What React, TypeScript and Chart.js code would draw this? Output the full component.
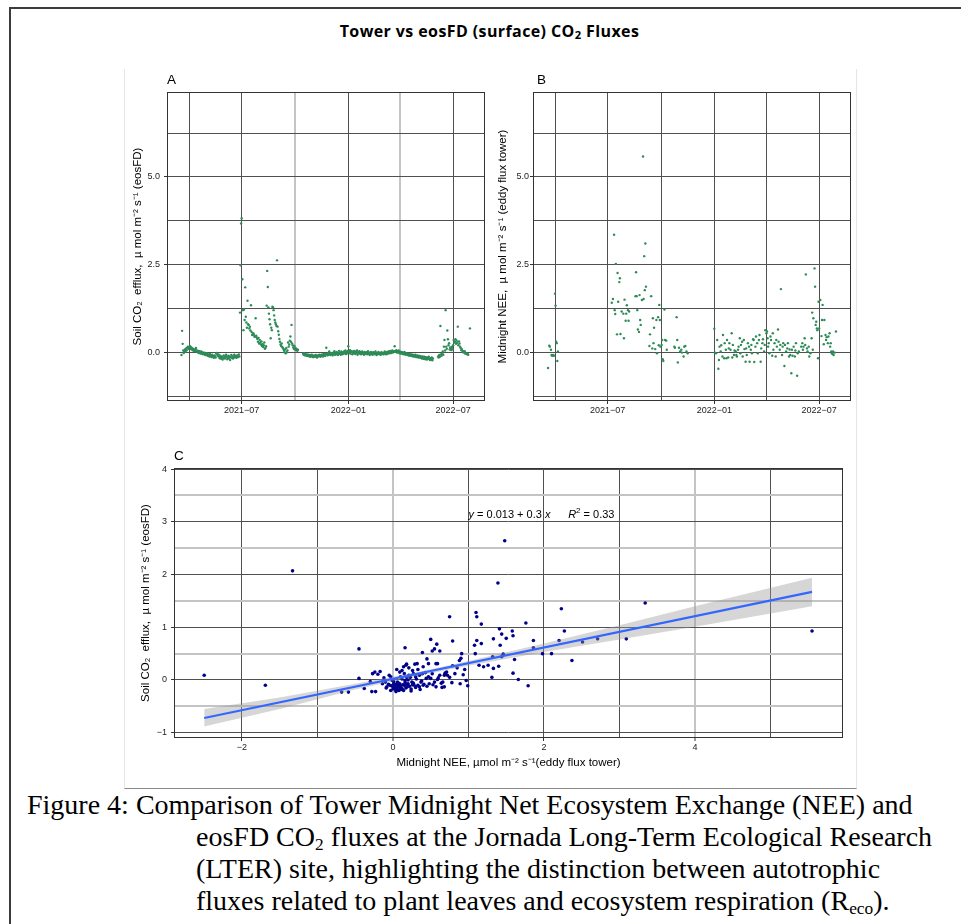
import React, { useEffect, useRef } from "react";
import { Chart, registerables } from "chart.js";

Chart.register(...registerables);

const SANS = '"Liberation Sans", Arial, Helvetica, sans-serif';
const SERIF = '"Liberation Serif", "Times New Roman", Times, serif';

// ---------------- text ----------------
const FIG_TITLE_PRE = "Tower vs eosFD (surface) CO";
const FIG_TITLE_POST = " Fluxes";
const Y_TITLE_SOIL = "Soil CO\u2082  efflux,  \u00B5 mol m\u207B\u00B2 s\u207B\u00B9 (eosFD)";
const Y_TITLE_NEE = "Midnight NEE,  \u00B5 mol m\u207B\u00B2 s\u207B\u00B9 (eddy flux tower)";
const X_TITLE_C = "Midnight NEE, \u00B5mol m\u207B\u00B2 s\u207B\u00B9(eddy flux tower)";

// ---------------- time axis (panels A, B) ----------------
const DATE_MIN = "2021-02-22";
const DATE_MAX = "2022-08-25";
const DATE_GRID = ["2021-04-01", "2021-07-01", "2021-10-01", "2022-01-01", "2022-04-01", "2022-07-01"];
const DATE_LABEL_AT = ["2021-07-01", "2022-01-01", "2022-07-01"];
const DATE_LABELS = ["2021\u221207", "2022\u221201", "2022\u221207"];
const TS_Y_MIN = -1.39;
const TS_Y_MAX = 7.42;
const TS_Y_GRID = [-1.25, 0, 1.25, 2.5, 3.75, 5, 6.25];
const TS_Y_LABELS = [0, 2.5, 5];

// ---------------- panel A: eosFD soil CO2 efflux (daily) ----------------
const A1_START = "2021-03-19";
const A1 = [
  -0.08, 0.61, 0.24, 0.05, -0.02, 0.03, 0.08, 0.02, 0.11, 0.06,
  0.13, 0.16, 0.10, 0.15, 0.12, 0.17, 0.09, 0.14, 0.11, 0.06,
  0.10, 0.04, 0.08, 0.03, 0.07, 0.12, 0.02, 0.05, 0.00, 0.04,
  -0.02, 0.03, 0.01, -0.04, 0.02, -0.03, 0.00, -0.06, -0.02, -0.05,
  -0.01, -0.08, -0.04, -0.07, -0.03, -0.10, -0.06, -0.09, -0.12, -0.05,
  -0.08, -0.11, -0.14, -0.07, -0.10, -0.13, -0.16, -0.09, -0.12, -0.15,
  -0.04, -0.02, -0.08, -0.11, -0.06, -0.13, -0.17, -0.10, -0.15, -0.19,
  -0.12, -0.21, -0.16, -0.09, -0.14, -0.18, -0.11, -0.07, -0.13, -0.20,
  -0.15, -0.10, -0.17, -0.12, -0.22, -0.14, -0.08, -0.16, -0.11, -0.18,
  -0.13, -0.07, -0.15, -0.10, -0.12, -0.16, -0.09, -0.14, -0.11, -0.06,
  -0.12,
];
const A2_START = "2021-06-28";
const A2 = [
  1.13, 2.48, 3.67, 3.82, 2.08, 1.20, 0.63, 1.22, 0.92, 1.85,
  1.01, 0.85, 0.70, 1.47, 0.80, 0.78, 0.68, 0.73, 0.62, 1.34,
  0.58, 0.49, 0.52, 0.54, 0.50, 0.44, 0.45, 0.97, 0.47, 0.42,
  0.38, 0.30, 0.41, 0.25, 0.35, 0.28, 0.22, 0.31, 0.18, 0.24,
  0.15, 0.20, 0.28, 0.10, 0.12, 0.17, 1.33, 2.32, 1.86, 1.28,
  1.10, 0.94, 0.80, 0.40, 0.70, 0.63, 1.30, 1.28, 1.20, 1.05,
  0.92, 0.85, 0.80, 0.75, 2.62, 0.73, 0.60, 0.50, 0.38, 0.30,
  0.22, 0.18, 0.25, 0.15, 0.12, 0.10, 0.05, 0.00, 0.08, -0.03,
  0.12, 0.00, 0.05, 0.28, 0.16, 0.22, 0.33, 0.45, 0.30, 0.78,
  0.25, 0.20, 0.14, 0.10, 0.18, 0.08, 0.12, 0.06, 0.09, 0.04,
  0.07,
];
const A3_START = "2021-10-15";
const A3 = [
  -0.04, -0.07, -0.03, -0.09, -0.05, -0.08, -0.10, -0.06, -0.11, -0.07,
  -0.09, -0.12, -0.08, -0.13, -0.10, -0.07, -0.11, -0.14, -0.09, -0.12,
  -0.10, -0.13, -0.08, -0.11, -0.15, -0.09, -0.12, -0.10, -0.07, -0.11,
  -0.13, -0.08, -0.10, -0.06, -0.12, -0.09, -0.05, -0.08, -0.11, -0.04,
  0.13, -0.06, -0.09, -0.03, -0.07, 0.02, -0.05, -0.08, -0.02, -0.06,
  -0.04, -0.09, -0.01, -0.05, 0.03, -0.07, -0.03, -0.06, 0.01, -0.04,
  -0.08, -0.02, 0.04, -0.05, -0.01, -0.07, 0.02, -0.03, -0.06, 0.00,
  -0.04, 0.03, -0.02, 0.05, -0.05, 0.01, -0.03, 0.04, 0.17, 0.02,
  -0.02, 0.06, -0.04, 0.01, 0.03, -0.06, 0.00, -0.03, 0.04, -0.01,
  -0.05, 0.02, -0.02, 0.05, -0.07, 0.00, -0.03, 0.03, -0.04, 0.01,
  -0.06, -0.02, 0.02, -0.04, -0.01, -0.07, 0.01, -0.03, -0.05, 0.00,
  -0.02, -0.06, 0.03, -0.04, -0.01, -0.08, -0.03, 0.01, -0.05, -0.02,
  -0.07, 0.00, -0.04, -0.01, -0.06, 0.02, -0.03, -0.08, -0.02, -0.05,
  0.01, -0.04, -0.06, -0.02, -0.07, 0.00, -0.03, -0.05, -0.01, -0.06,
  -0.03, 0.02, -0.05, -0.02, -0.06, 0.01, -0.04, -0.01, 0.03, -0.03,
  0.00, 0.04, -0.02, 0.02, 0.05, -0.01, 0.03, 0.01, 0.17, 0.04,
  0.02, 0.06, -0.01, 0.03, 0.00, 0.05, -0.02, 0.02, -0.04, 0.01,
  -0.03, 0.00, -0.05, -0.02, -0.06, 0.01, -0.04, -0.07, -0.03, -0.05,
  -0.08, -0.04, -0.06, -0.10, -0.05, -0.09, -0.07, -0.11, -0.06, -0.09,
  -0.12, -0.08, -0.10, -0.13, -0.07, -0.11, -0.14, -0.09, -0.12, -0.15,
  -0.10, -0.13, -0.16, -0.11, -0.14, -0.18, -0.12, -0.15, -0.19, -0.13,
  -0.16, -0.20, -0.14, -0.17, -0.21, -0.15, -0.18, -0.13, -0.19, -0.22,
  -0.17, -0.20, -0.15, -0.23, -0.18,
];
const A4_START = "2022-06-05";
const A4 = [
  -0.12, -0.15, -0.08, -0.13, 0.75, -0.06, -0.10, -0.04, 0.02, -0.07,
  0.16, 0.35, 0.05, 1.20, 0.16, 0.10, 0.62, 0.37, 0.20, 0.26,
  0.08, 0.14, 0.11, 0.06, 0.15, 0.09, 0.20, 0.35, 0.28, 0.30,
  0.37, 0.24, 0.33, 0.27, 0.73, 0.20, 0.31, 0.25, 0.16, 0.12,
  0.06, 0.09, 0.04, 0.01, -0.01, 0.03, 0.02, -0.04, -0.02, -0.03,
  -0.06, -0.05, -0.07, null, null, 0.68,
];

// ---------------- panel B: tower midnight NEE (daily, null = missing) ----------------
const B1_START = "2021-03-20";
const B1 = [-0.45, null, 0.19, 0.16, null, 0.07, -0.08, -0.10, null, -0.08, -0.10, null, 1.67, 1.33, 0.30, 0.26, -0.25, 0.02];
const B2_START = "2021-07-08";
const B2 = [
  1.41, null, 1.52, null, 3.35, 1.20, 1.09, 2.52, null, 0.51,
  2.26, 1.44, null, 2.00, 2.11, 0.52, null, 1.16, null, null,
  1.10, 0.40, 1.50, null, 0.90, 1.10, 1.34, null, 1.20, 0.90,
  1.16, null, null, null, null, null, null, null, null, null,
  null, 1.60, 2.28, 1.60, 1.20, 0.65, null, 0.58, 1.63, 0.92,
  0.78, null, 1.49, null, 5.58, 1.52, 2.74, 1.77, 3.10, 1.87,
  null, null, null, null, null, 0.18, 0.51, null, 1.60, null,
  0.11, 0.97, 0.26, 0.70, null, 0.09, null, 0.92, -0.03, null,
  1.00, 0.20, 1.35, 0.92, 0.16, null, 0.21, 0.35, -0.20, -0.25,
  null, 1.22, 0.35, null, 0.33, 0.07,
];
const B3_START = "2021-10-24";
const B3 = [0.16, 0.13, null, null, 1.00, 0.35, -0.29, null, 0.13, null, 0.02, null, 0.07, -0.01, null, null, -0.12, 0.16, null, 0.18, null, 0.02, null, -0.03];
const B4_START = "2022-01-01";
const B4 = [
  0.67, -0.01, null, -0.03, null, 0.35, null, -0.47, -0.22, 0.16,
  null, 0.02, 0.20, null, -0.12, 0.49, null, -0.17, 0.26, null,
  0.07, -0.17, 0.35, null, -0.15, 0.11, 0.26, null, 0.07, null,
  0.54, -0.15, 0.21, null, -0.08, 0.05, null, 0.02, -0.08, -0.12,
  null, 0.07, 0.16, null, 0.40, -0.03, 0.21, null, 0.30, -0.12,
  null, 0.35, 0.09, null, -0.27, 0.11, -0.08, null, 0.26, null,
  0.16, -0.27, null, 0.07, 0.21, -0.03, null, 0.37, 0.35, -0.28,
  null, 0.16, 0.45, null, 0.26, -0.03, null, 0.35, 0.49, null,
  -0.27, 0.11, null, 0.26, 0.37, null, 0.02, 0.21, 0.63, null,
  0.54, 0.59, 0.40, 0.16, 0.26, -0.03, null, 0.45, 0.35, null,
  -0.10, 0.54, 0.07, null, 0.26, null, -0.12, 0.35, 0.16, null,
  0.65, 0.30, null, 0.07, 0.21, 1.80, null, -0.08, 0.16, 0.26,
  null, -0.39, 0.21, null, 0.02, null, 0.11, 0.26, null, -0.12,
  0.08, -0.08, null, -0.60, 0.07, -0.10, null, 0.16, null, -0.12,
  0.05, 0.26, null, -0.67, -0.03, null, 0.02, null, null, null,
  0.16, null, 0.26, 0.07, 0.16, null, 0.40, 0.21, 2.22, null,
  0.11, 0.02, null, 0.16, -0.12, null, -0.03, null, 0.40, 1.13,
  0.07, 0.97, null, 2.39, 1.87, 0.78, 0.87, 0.68, 0.63, -0.17,
  1.44, 0.68, null, 1.49, null, 0.46, 0.92, 1.35, null, 0.23,
  0.92, null, 0.49, 0.35, 0.43, null, 0.26, 0.45, null, 0.54,
  0.16, 0.26, 0.02, -0.03, -0.05, 0.02, -0.08, null, -0.01, null,
  0.59,
];

// ---------------- panel C: scatter + linear fit ----------------
const C_NEE = [
  -2.50, -1.69, -1.33, -0.45, -0.45, -0.68, -0.59, -0.38, -0.30, -0.27,
  -0.24, -0.20, -0.17, -0.28, -0.23, -0.14, -0.12, -0.10, -0.08, -0.05,
  -0.04, -0.03, -0.01, 0.00, 0.01, 0.03, 0.04, 0.05, 0.06, 0.07,
  0.08, 0.09, 0.10, 0.12, 0.12, 0.14, 0.15, 0.16, 0.17, 0.18,
  0.19, 0.20, 0.21, 0.24, 0.25, 0.26, 0.28, 0.30, 0.32, 0.35,
  0.37, 0.39, 0.40, 0.44, 0.48, 0.50, 0.52, 0.55, 0.57, 0.59,
  0.62, 0.66, 0.68, 0.69, 0.72, 0.57, 0.45, 0.02, 0.05, 0.08,
  0.11, 0.03, 0.06, 0.09, 0.13, 0.00, -0.02, 0.04, 0.07, 0.10,
  0.14, 0.17, 0.19, 0.22, 0.24, 0.27, 0.30, 0.33, 0.36, 0.41,
  0.45, 0.01, -0.06, -0.09, 0.12, 0.16, 0.20, 0.23, 0.26, 0.31,
  0.35, 0.38, 0.43, 0.47, 0.53, 0.60, 0.64, 0.15, 0.05, -0.03,
  0.09, 0.21, 0.27, 0.18, 0.33, 0.40, 0.75, 0.82, 0.95, 0.78,
  1.48, 1.39, 0.75, 1.10, 1.11, 1.17, 1.76, 1.41, 1.44, 1.58,
  1.59, 1.50, 1.33, 1.11, 1.17, 1.08, 1.42, 0.79, 0.50, 0.58,
  0.55, 0.62, 0.52, 0.39, 0.16, 0.91, 0.90, 0.88, 1.09, 1.46,
  1.61, 1.86, 1.86, 1.98, 2.10, 2.20, 2.23, 2.27, 2.37, 2.51,
  2.71, 3.09, 3.34, 5.55, 1.59, 1.66, 1.79, 1.31, 1.14, 1.20,
  1.26, 1.33, 1.40, 1.44, 1.32, 0.89, 0.97, 0.99, 0.93, 0.85,
  0.79, 0.65, 0.68, 0.71, 0.59, 0.47, 0.29,
];
const C_SOIL = [
  0.09, -0.10, 2.07, 0.59, 0.03, -0.23, -0.23, -0.16, -0.03, 0.12,
  0.15, 0.11, 0.16, -0.22, -0.22, -0.07, 0.04, -0.04, -0.13, 0.09,
  -0.10, -0.20, -0.01, -0.13, -0.07, -0.16, -0.20, -0.10, -0.04, -0.13,
  -0.20, -0.07, 0.06, -0.16, 0.18, 0.25, -0.10, -0.01, 0.28, 0.30,
  -0.13, -0.07, 0.09, -0.21, -0.04, 0.18, -0.10, 0.06, 0.31, -0.13,
  -0.04, 0.12, -0.10, 0.03, -0.07, 0.03, 0.12, -0.04, -0.13, 0.01,
  0.09, -0.04, -0.13, 0.13, 0.09, 0.31, 0.40, -0.12, -0.15, -0.10,
  -0.18, -0.08, -0.19, -0.14, -0.09, -0.17, -0.11, -0.22, -0.06, -0.12,
  -0.20, -0.15, -0.08, -0.12, -0.17, -0.06, -0.14, -0.10, -0.18, -0.08,
  -0.12, -0.03, -0.08, -0.15, 0.02, -0.05, 0.00, 0.05, -0.09, 0.02,
  0.09, -0.02, 0.14, 0.06, -0.09, 0.04, -0.06, 0.12, 0.20, 0.06,
  0.15, 0.23, 0.12, 0.05, 0.20, 0.25, 0.05, 0.12, 0.20, -0.05,
  2.64, 1.84, 1.20, 1.28, 1.20, 1.06, 1.08, 0.97, 0.87, 0.93,
  0.84, 0.79, 0.78, 0.75, 0.69, 0.66, 0.66, 0.74, 0.77, 0.68,
  0.59, 0.55, 0.55, 0.52, 0.61, 0.50, 0.41, 0.37, 0.50, 0.49,
  0.39, 0.75, 0.61, 0.50, 0.50, 0.75, 1.35, 0.93, 0.37, 0.72,
  0.78, 0.78, 1.46, 0.93, 0.13, 0.01, -0.11, 0.05, 0.28, 0.25,
  0.28, 0.22, 0.26, 0.44, 0.44, -0.07, -0.01, -0.11, 0.10, 0.23,
  0.27, -0.14, 0.09, 0.15, 0.31, 0.31, 0.30,
];
const FIT_X = [-2.5, 5.55];
const FIT_Y = [-0.72, 1.67];
const BAND_X = [-2.5, -1.5, -0.5, 0.3, 1, 2, 3, 4, 5.55];
const BAND_LO = [-0.88, -0.55, -0.18, 0.07, 0.27, 0.53, 0.77, 1.01, 1.40];
const BAND_HI = [-0.55, -0.33, -0.07, 0.14, 0.36, 0.69, 1.04, 1.40, 1.94];
const EQ_INTERCEPT = "0.013";
const EQ_SLOPE = "0.3";
const EQ_R2 = "0.33";
const EQ_X1 = 1.0;
const EQ_X2 = 2.32;
const EQ_Y = 3.07;
const C_X_MIN = -2.9;
const C_X_MAX = 5.96;
const C_Y_MIN = -1.1;
const C_Y_MAX = 4.02;
const C_X_GRID = [-2, -1, 0, 1, 2, 3, 4, 5];
const C_X_LABELS = [-2, 0, 2, 4];
const C_Y_GRID = [-1, -0.5, 0, 0.5, 1, 1.5, 2, 2.5, 3, 3.5, 4];
const C_Y_LABELS = [-1, 0, 1, 2, 3, 4];

const CAPTION_1 = "Figure 4: Comparison of Tower Midnight Net Ecosystem Exchange (NEE) and";
const CAPTION_2A = "eosFD CO";
const CAPTION_2B = " fluxes at the Jornada Long-Term Ecological Research";
const CAPTION_3 = "(LTER) site, highlighting the distinction between autotrophic";
const CAPTION_4A = "fluxes related to plant leaves and ecosystem respiration (R";
const CAPTION_4B = ").";

// ---------------- helpers ----------------
function dayNum(s: string): number {
  const [y, m, d] = s.split("-").map(Number);
  return Date.UTC(y, m - 1, d) / 86400000;
}
function daily(start: string, vals: (number | null)[]) {
  const d0 = dayNum(start);
  const out: { x: number; y: number }[] = [];
  vals.forEach((v, i) => {
    if (v !== null && v !== undefined) out.push({ x: d0 + i, y: v });
  });
  return out;
}
const minusFmt = (v: number) => (v < 0 ? "\u2212" + Math.abs(v) : String(v));

const DARK_GRID = "#505050";
const LIGHT_GRID = "#c4c4c4";
const NONE = "rgba(0,0,0,0)";
const AXIS_TITLE_SIZE = 11.5;

const framePlugin = {
  id: "panelFrame",
  afterDraw(chart: any, _args: any, opts: any) {
    const { ctx, chartArea: a } = chart;
    ctx.save();
    ctx.strokeStyle = "#333";
    ctx.lineWidth = 1;
    const l = Math.round(a.left) + 0.5;
    const t = Math.round(a.top) + 0.5;
    const r = Math.round(a.right) - 0.5;
    const b = Math.round(a.bottom) - 0.5;
    ctx.strokeRect(l, t, r - l, b - t);
    ctx.fillStyle = "#000";
    ctx.font = `13.5px ${SANS}`;
    ctx.textAlign = "left";
    ctx.textBaseline = "alphabetic";
    ctx.fillText(opts.tag, a.left + (opts.tagDx || 0), a.top - 8.5);
    ctx.restore();
  },
};

const equationPlugin = {
  id: "fitEquation",
  afterDatasetsDraw(chart: any) {
    const { ctx, scales } = chart;
    const y = scales.y.getPixelForValue(EQ_Y);
    ctx.save();
    ctx.fillStyle = "#000";
    ctx.textAlign = "left";
    ctx.textBaseline = "alphabetic";
    const draw = (parts: any[], startX: number) => {
      let x = startX;
      for (const p of parts) {
        ctx.font = `${p.italic ? "italic " : ""}${p.size}px ${SANS}`;
        ctx.fillText(p.text, x, y - (p.raise || 0));
        x += ctx.measureText(p.text).width;
      }
    };
    draw(
      [
        { text: "y", italic: true, size: 11 },
        { text: ` = ${EQ_INTERCEPT} + ${EQ_SLOPE} `, size: 11 },
        { text: "x", italic: true, size: 11 },
      ],
      scales.x.getPixelForValue(EQ_X1)
    );
    draw(
      [
        { text: "R", italic: true, size: 11 },
        { text: "2", size: 8, raise: 5 },
        { text: ` = ${EQ_R2}`, size: 11 },
      ],
      scales.x.getPixelForValue(EQ_X2)
    );
    ctx.restore();
  },
};

function tsConfig(points: any[], o: any): any {
  const gridX = DATE_GRID.map(dayNum);
  const labelX = DATE_LABEL_AT.map(dayNum);
  const lightX = (o.lightDates as string[]).map(dayNum);
  return {
    type: "scatter",
    data: {
      datasets: [
        {
          data: points,
          backgroundColor: "#2E8B57",
          borderWidth: 0,
          pointRadius: 1.2,
          pointHoverRadius: 1.2,
        },
      ],
    },
    options: {
      animation: false,
      responsive: false,
      events: [],
      layout: { padding: { left: 0, right: o.padRight, top: 32, bottom: 0 } },
      plugins: {
        legend: { display: false },
        tooltip: { enabled: false },
        panelFrame: { tag: o.tag, tagDx: o.tagDx },
      },
      scales: {
        x: {
          type: "linear",
          bounds: "data",
          min: dayNum(DATE_MIN),
          max: dayNum(DATE_MAX),
          afterBuildTicks: (s: any) => {
            s.ticks = gridX.map((v) => ({ value: v }));
          },
          afterFit: (s: any) => {
            s.height = 21;
          },
          ticks: {
            autoSkip: false,
            maxRotation: 0,
            minRotation: 0,
            padding: 1,
            color: "#222",
            font: { family: SANS, size: 9 },
            callback: (v: number) => {
              const i = labelX.indexOf(v);
              return i >= 0 ? DATE_LABELS[i] : "";
            },
          },
          grid: {
            color: (c: any) => (c.tick && lightX.includes(c.tick.value) ? LIGHT_GRID : DARK_GRID),
            lineWidth: (c: any) => (c.tick && lightX.includes(c.tick.value) ? 2 : 1),
            tickColor: (c: any) => (c.tick && labelX.includes(c.tick.value) ? "#333" : NONE),
            tickLength: 3,
            tickWidth: 1,
          },
          border: { display: false },
        },
        y: {
          type: "linear",
          bounds: "data",
          min: TS_Y_MIN,
          max: TS_Y_MAX,
          afterBuildTicks: (s: any) => {
            s.ticks = TS_Y_GRID.map((v) => ({ value: v }));
          },
          afterFit: (s: any) => {
            s.width = o.yWidth;
          },
          ticks: {
            autoSkip: false,
            padding: o.yTickPad,
            color: "#222",
            font: { family: SANS, size: 9 },
            callback: (v: number) => (TS_Y_LABELS.includes(v) ? v.toFixed(1) : ""),
          },
          grid: {
            color: DARK_GRID,
            lineWidth: 1,
            tickColor: (c: any) => (c.tick && TS_Y_LABELS.includes(c.tick.value) ? "#333" : NONE),
            tickLength: 3,
            tickWidth: 1,
          },
          border: { display: false },
          title: {
            display: true,
            text: o.yTitle,
            color: "#000",
            font: { family: SANS, size: AXIS_TITLE_SIZE },
            padding: { top: o.yTitlePad, bottom: 0 },
          },
        },
      },
    },
    plugins: [framePlugin],
  };
}

function scatterConfig(): any {
  const pts = C_NEE.map((x, i) => ({ x, y: C_SOIL[i] }));
  const fit = FIT_X.map((x, i) => ({ x, y: FIT_Y[i] }));
  const lo = BAND_X.map((x, i) => ({ x, y: BAND_LO[i] }));
  const hi = BAND_X.map((x, i) => ({ x, y: BAND_HI[i] }));
  return {
    type: "scatter",
    data: {
      datasets: [
        {
          type: "line",
          data: fit,
          borderColor: "#3366FF",
          borderWidth: 2.2,
          pointRadius: 0,
          fill: false,
          order: 0,
        },
        {
          type: "line",
          data: lo,
          borderColor: NONE,
          borderWidth: 0,
          pointRadius: 0,
          fill: false,
          order: 2,
        },
        {
          type: "line",
          data: hi,
          borderColor: NONE,
          borderWidth: 0,
          pointRadius: 0,
          fill: "-1",
          backgroundColor: "rgba(153,153,153,0.4)",
          order: 1,
        },
        {
          data: pts,
          backgroundColor: "#00008B",
          borderWidth: 0,
          pointRadius: 1.8,
          pointHoverRadius: 1.8,
          order: 3,
        },
      ],
    },
    options: {
      animation: false,
      responsive: false,
      events: [],
      layout: { padding: { left: 0, right: 17, top: 28, bottom: 0 } },
      plugins: {
        legend: { display: false },
        tooltip: { enabled: false },
        panelFrame: { tag: "C", tagDx: 0 },
      },
      scales: {
        x: {
          type: "linear",
          bounds: "data",
          min: C_X_MIN,
          max: C_X_MAX,
          afterBuildTicks: (s: any) => {
            s.ticks = C_X_GRID.map((v) => ({ value: v }));
          },
          afterFit: (s: any) => {
            s.height = 47;
          },
          ticks: {
            autoSkip: false,
            maxRotation: 0,
            minRotation: 0,
            padding: 1,
            color: "#222",
            font: { family: SANS, size: 9 },
            callback: (v: number) => (C_X_LABELS.includes(v) ? minusFmt(v) : ""),
          },
          grid: {
            color: (c: any) => (c.tick && (c.tick.value === 0 || c.tick.value === 4) ? LIGHT_GRID : DARK_GRID),
            lineWidth: (c: any) => (c.tick && (c.tick.value === 0 || c.tick.value === 4) ? 2 : 1),
            tickColor: (c: any) => (c.tick && C_X_LABELS.includes(c.tick.value) ? "#333" : NONE),
            tickLength: 3,
            tickWidth: 1,
          },
          border: { display: false },
          title: {
            display: true,
            text: X_TITLE_C,
            color: "#000",
            font: { family: SANS, size: AXIS_TITLE_SIZE },
            padding: { top: 0, bottom: 15.4 },
          },
        },
        y: {
          type: "linear",
          bounds: "data",
          min: C_Y_MIN,
          max: C_Y_MAX,
          afterBuildTicks: (s: any) => {
            s.ticks = C_Y_GRID.map((v) => ({ value: v }));
          },
          afterFit: (s: any) => {
            s.width = 54;
          },
          ticks: {
            autoSkip: false,
            padding: 4,
            color: "#222",
            font: { family: SANS, size: 9 },
            callback: (v: number) => (C_Y_LABELS.includes(v) ? minusFmt(v) : ""),
          },
          grid: {
            color: (c: any) => (c.tick && !Number.isInteger(c.tick.value) ? LIGHT_GRID : DARK_GRID),
            lineWidth: (c: any) => (c.tick && !Number.isInteger(c.tick.value) ? 2 : 1),
            tickColor: (c: any) => (c.tick && C_Y_LABELS.includes(c.tick.value) ? "#333" : NONE),
            tickLength: 3,
            tickWidth: 1,
          },
          border: { display: false },
          title: {
            display: true,
            text: Y_TITLE_SOIL,
            color: "#000",
            font: { family: SANS, size: AXIS_TITLE_SIZE },
            padding: { top: 19.1, bottom: 0 },
          },
        },
      },
    },
    plugins: [framePlugin, equationPlugin],
  };
}

const abs = (l: number, t: number, extra: any = {}) => ({ position: "absolute" as const, left: l, top: t, ...extra });

export default function App() {
  const refA = useRef<HTMLCanvasElement>(null);
  const refB = useRef<HTMLCanvasElement>(null);
  const refC = useRef<HTMLCanvasElement>(null);

  useEffect(() => {
    const ptsA = [...daily(A1_START, A1), ...daily(A2_START, A2), ...daily(A3_START, A3), ...daily(A4_START, A4)];
    const ptsB = [...daily(B1_START, B1), ...daily(B2_START, B2), ...daily(B3_START, B3), ...daily(B4_START, B4)];
    const a = new Chart(
      refA.current as HTMLCanvasElement,
      tsConfig(ptsA, {
        tag: "A",
        tagDx: 0,
        padRight: 5,
        yWidth: 47,
        yTickPad: 4,
        yTitle: Y_TITLE_SOIL,
        yTitlePad: 11.1,
        lightDates: ["2021-10-01", "2022-04-01"],
      })
    );
    const b = new Chart(
      refB.current as HTMLCanvasElement,
      tsConfig(ptsB, {
        tag: "B",
        tagDx: 4,
        padRight: 9,
        yWidth: 43,
        yTickPad: 1,
        yTitle: Y_TITLE_NEE,
        yTitlePad: 6.1,
        lightDates: [],
      })
    );
    const c = new Chart(refC.current as HTMLCanvasElement, scatterConfig());
    return () => {
      a.destroy();
      b.destroy();
      c.destroy();
    };
  }, []);

  const capStyle = { font: `28px ${SERIF}`, lineHeight: "32px", whiteSpace: "nowrap" as const, color: "#000" };
  const sub = { fontSize: "0.62em", verticalAlign: "-0.22em", lineHeight: 0 };

  return (
    <div style={abs(0, 0, { width: 961, height: 924, background: "#fff", overflow: "hidden" })}>
      <div
        style={abs(9, 7, {
          width: 952,
          height: 917,
          borderTop: "2px solid #3c3c3c",
          borderLeft: "2px solid #3c3c3c",
          boxSizing: "border-box",
        })}
      />
      <div
        style={abs(124, 69, {
          width: 733,
          height: 720,
          borderLeft: "1px solid #e6e6e6",
          borderRight: "1px solid #e6e6e6",
          borderBottom: "1px solid #8a8a8a",
          boxSizing: "border-box",
        })}
      />
      <div
        style={abs(0, 20.5, {
          width: 979,
          textAlign: "center",
          font: `bold 16px "Open Sans", ${SANS}`,
          letterSpacing: "0.4px",
          lineHeight: "20px",
          color: "#000",
          whiteSpace: "nowrap",
        })}
      >
        {FIG_TITLE_PRE}
        <sub style={{ fontSize: "0.7em", verticalAlign: "-0.2em", lineHeight: 0 }}>2</sub>
        {FIG_TITLE_POST}
      </div>
      <canvas ref={refA} width={370} height={362} style={abs(120, 60, { width: 370, height: 362 })} />
      <canvas ref={refB} width={370} height={362} style={abs(490, 60, { width: 370, height: 362 })} />
      <canvas ref={refC} width={740} height={345} style={abs(120, 440, { width: 740, height: 345 })} />
      <div style={abs(27, 788.5, capStyle)}>{CAPTION_1}</div>
      <div style={abs(196, 820.5, capStyle)}>
        {CAPTION_2A}
        <sub style={sub}>2</sub>
        {CAPTION_2B}
      </div>
      <div style={abs(196, 852.5, capStyle)}>{CAPTION_3}</div>
      <div style={abs(196, 884.5, capStyle)}>
        {CAPTION_4A}
        <sub style={sub}>eco</sub>
        {CAPTION_4B}
      </div>
    </div>
  );
}
